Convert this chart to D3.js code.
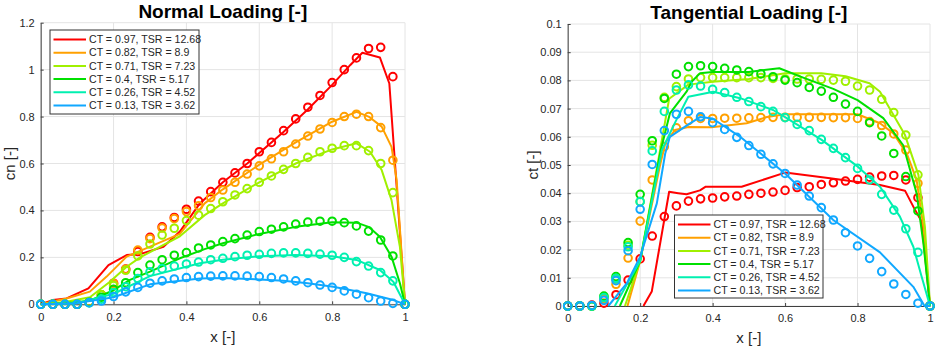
<!DOCTYPE html>
<html>
<head>
<meta charset="utf-8">
<script src="https://cdn.jsdelivr.net/npm/d3@7"></script>
<style>
  body { margin: 0; background: #fff; }
  svg { display: block; font-family: "Liberation Sans", Arial, sans-serif; }
</style>
</head>
<body>
<svg width="936" height="346"></svg>
<script>
// x stations of the measured points (circles)
const xPts = [0, 0.0333, 0.0667, 0.1, 0.1333, 0.1667, 0.2, 0.2333, 0.2667, 0.3, 0.3333, 0.3667, 0.4, 0.4333, 0.4667, 0.5,
  0.5333, 0.5667, 0.6, 0.6333, 0.6667, 0.7, 0.7333, 0.7667, 0.8, 0.8333, 0.8667, 0.9, 0.9333, 0.9667, 1];

const seriesNames = ["CT = 0.97, TSR = 12.68", "CT = 0.82, TSR = 8.9", "CT = 0.71, TSR = 7.23",
  "CT = 0.4, TSR = 5.17", "CT = 0.26, TSR = 4.52", "CT = 0.13, TSR = 3.62"];

const xTicks = [0, 0.2, 0.4, 0.6, 0.8, 1];
const cnTicks = [0, 0.2, 0.4, 0.6, 0.8, 1, 1.2];
const ctTicks = [0, 0.01, 0.02, 0.03, 0.04, 0.05, 0.06, 0.07, 0.08, 0.09, 0.1];

// normal loading, circles
const cnRed    = [0, 0, 0, 0, 0.01, 0.04, 0.09, 0.15, 0.225, 0.285, 0.33, 0.37, 0.405, 0.44, 0.48, 0.52, 0.56, 0.6, 0.65, 0.69, 0.74, 0.79, 0.84, 0.89, 0.945, 1.0, 1.05, 1.09, 1.095, 0.97, 0];
const cnOrange = [0, 0, 0, 0, 0.01, 0.04, 0.088, 0.149, 0.231, 0.28, 0.325, 0.365, 0.395, 0.42, 0.455, 0.487, 0.52, 0.555, 0.59, 0.62, 0.65, 0.683, 0.717, 0.747, 0.775, 0.8, 0.81, 0.8, 0.753, 0.614, 0];
const cnYellow = [0, 0, 0, 0, 0.01, 0.04, 0.08, 0.145, 0.206, 0.257, 0.295, 0.324, 0.357, 0.38, 0.408, 0.437, 0.466, 0.493, 0.52, 0.547, 0.575, 0.6, 0.626, 0.65, 0.665, 0.676, 0.676, 0.655, 0.6, 0.476, 0];
const cnGreen  = [0, 0, 0, 0, 0.008, 0.03, 0.064, 0.092, 0.135, 0.167, 0.19, 0.209, 0.22, 0.24, 0.253, 0.267, 0.28, 0.295, 0.31, 0.32, 0.33, 0.342, 0.35, 0.354, 0.354, 0.348, 0.334, 0.312, 0.274, 0.206, 0];
const cnCyan   = [0, 0, 0, 0, 0.006, 0.022, 0.05, 0.075, 0.11, 0.138, 0.152, 0.163, 0.172, 0.18, 0.19, 0.196, 0.203, 0.209, 0.213, 0.217, 0.219, 0.219, 0.217, 0.214, 0.209, 0.2, 0.182, 0.163, 0.135, 0.1, 0];
const cnBlue   = [0, 0, 0, 0, 0.007, 0.014, 0.033, 0.053, 0.072, 0.09, 0.1, 0.108, 0.114, 0.118, 0.12, 0.121, 0.121, 0.12, 0.118, 0.114, 0.108, 0.1, 0.092, 0.082, 0.072, 0.057, 0.043, 0.028, 0.014, 0.004, 0];

// normal loading, model lines [x, cn]
const cnLineRed    = [[0,0],[0.033,0.018],[0.071,0.025],[0.131,0.068],[0.186,0.167],[0.236,0.21],[0.273,0.214],[0.337,0.245],[0.382,0.31],[0.437,0.43],[0.5,0.52],[0.567,0.6],[0.667,0.735],[0.733,0.83],[0.8,0.935],[0.85,1.02],[0.883,1.072],[0.931,1.052],[0.957,0.941],[1,0]];
const cnLineOrange = [[0,0],[0.071,0.025],[0.135,0.054],[0.181,0.118],[0.236,0.203],[0.273,0.228],[0.382,0.3],[0.45,0.43],[0.5,0.49],[0.6,0.595],[0.7,0.69],[0.8,0.778],[0.867,0.82],[0.9,0.8],[0.936,0.757],[0.963,0.671],[0.977,0.53],[1,0]];
const cnLineYellow = [[0,0],[0.067,0.01],[0.135,0.03],[0.19,0.096],[0.236,0.16],[0.273,0.2],[0.382,0.29],[0.45,0.38],[0.5,0.43],[0.6,0.52],[0.7,0.6],[0.8,0.66],[0.867,0.686],[0.904,0.65],[0.936,0.572],[0.963,0.444],[0.986,0.245],[1,0]];
const cnLineGreen  = [[0,0],[0.067,0.005],[0.135,0.015],[0.2,0.06],[0.245,0.104],[0.3,0.139],[0.382,0.196],[0.45,0.235],[0.5,0.26],[0.6,0.3],[0.7,0.33],[0.8,0.35],[0.867,0.348],[0.9,0.33],[0.931,0.288],[0.963,0.203],[0.986,0.09],[1,0]];
const cnLineCyan   = [[0,0],[0.1,0.005],[0.2,0.045],[0.3,0.12],[0.437,0.175],[0.5,0.19],[0.6,0.205],[0.7,0.21],[0.8,0.205],[0.867,0.189],[0.931,0.146],[0.968,0.096],[0.99,0.03],[1,0]];
const cnLineBlue   = [[0,0],[0.1,0.005],[0.2,0.03],[0.3,0.085],[0.437,0.11],[0.5,0.112],[0.6,0.106],[0.666,0.1],[0.733,0.09],[0.803,0.075],[0.895,0.047],[0.968,0.018],[1,0]];

// tangential loading, circles
const ctRed    = [0, 0, 0.0003, 0.001, 0.004, 0.0092, 0.0167, 0.0248, 0.0317, 0.0355, 0.0372, 0.038, 0.0383, 0.0387, 0.039, 0.0396, 0.04, 0.0404, 0.041, 0.042, 0.0423, 0.0431, 0.0437, 0.0443, 0.0449, 0.0457, 0.0461, 0.0463, 0.0447, 0.0384, 0];
const ctOrange = [0, 0, 0, 0.0025, 0.0077, 0.017, 0.0301, 0.0447, 0.0565, 0.0632, 0.0657, 0.0665, 0.0665, 0.0666, 0.0666, 0.0667, 0.0668, 0.0669, 0.0669, 0.0669, 0.0669, 0.0669, 0.0668, 0.0668, 0.0665, 0.0654, 0.064, 0.061, 0.0553, 0.0435, 0];
const ctYellow = [0, 0, 0, 0.003, 0.0095, 0.0215, 0.037, 0.057, 0.074, 0.0778, 0.0805, 0.081, 0.081, 0.081, 0.081, 0.081, 0.081, 0.0807, 0.0805, 0.0805, 0.0805, 0.0804, 0.0801, 0.0797, 0.078, 0.0766, 0.0733, 0.0686, 0.0606, 0.0465, 0];
const ctGreen  = [0, 0, 0, 0.0035, 0.0104, 0.0225, 0.0396, 0.0586, 0.0736, 0.0822, 0.0849, 0.0852, 0.0849, 0.0843, 0.0837, 0.0831, 0.0823, 0.0813, 0.0801, 0.0792, 0.0775, 0.0762, 0.074, 0.0716, 0.069, 0.065, 0.0603, 0.0541, 0.0459, 0.0337, 0];
const ctCyan   = [0, 0, 0, 0.003, 0.0098, 0.021, 0.037, 0.055, 0.069, 0.0766, 0.0784, 0.078, 0.0768, 0.0757, 0.074, 0.0725, 0.0707, 0.069, 0.0668, 0.0644, 0.0622, 0.0591, 0.0559, 0.0526, 0.0488, 0.0447, 0.0396, 0.034, 0.0274, 0.019, 0];
const ctBlue   = [0, 0, 0.0002, 0.002, 0.009, 0.0196, 0.0343, 0.0502, 0.0622, 0.068, 0.069, 0.0671, 0.065, 0.0626, 0.0598, 0.0569, 0.0538, 0.0504, 0.047, 0.0429, 0.039, 0.0349, 0.0305, 0.026, 0.0213, 0.0169, 0.0122, 0.0078, 0.0041, 0.001, 0];

// tangential loading, model lines [x, ct]
const ctLineRed    = [[0.209,0],[0.232,0.0051],[0.28,0.0405],[0.305,0.04],[0.328,0.0396],[0.365,0.041],[0.381,0.0423],[0.48,0.0423],[0.6,0.0473],[0.724,0.0453],[0.862,0.0429],[0.931,0.0409],[0.959,0.034],[0.977,0.03],[1,0]];
const ctLineOrange = [[0.165,0],[0.2,0.016],[0.255,0.05],[0.27,0.058],[0.296,0.0624],[0.333,0.0635],[0.397,0.0634],[0.494,0.0648],[0.55,0.067],[0.6,0.068],[0.7,0.068],[0.8,0.068],[0.862,0.0648],[0.899,0.0612],[0.936,0.054],[0.963,0.0447],[0.982,0.028],[1,0]];
const ctLineYellow = [[0.158,0],[0.2,0.016],[0.255,0.0553],[0.28,0.0735],[0.333,0.0785],[0.4,0.0795],[0.5,0.0805],[0.6,0.0825],[0.7,0.0825],[0.767,0.0815],[0.833,0.079],[0.862,0.076],[0.931,0.0606],[0.968,0.0465],[0.986,0.028],[1,0]];
const ctLineGreen  = [[0.144,0],[0.2,0.016],[0.257,0.0553],[0.282,0.0683],[0.328,0.076],[0.342,0.0795],[0.365,0.0825],[0.4,0.083],[0.5,0.083],[0.584,0.0843],[0.65,0.081],[0.733,0.077],[0.8,0.073],[0.871,0.0666],[0.926,0.057],[0.963,0.04],[0.982,0.022],[1,0]];
const ctLineCyan   = [[0.13,0],[0.2,0.016],[0.26,0.0553],[0.3,0.066],[0.333,0.0742],[0.402,0.076],[0.476,0.0737],[0.567,0.0695],[0.6,0.067],[0.7,0.059],[0.8,0.0495],[0.862,0.0423],[0.917,0.0317],[0.954,0.021],[0.977,0.0104],[1,0]];
const ctLineBlue   = [[0.112,0],[0.163,0.008],[0.2,0.0175],[0.246,0.0364],[0.269,0.054],[0.282,0.06],[0.324,0.0636],[0.365,0.067],[0.4,0.0665],[0.476,0.06],[0.6,0.047],[0.733,0.0305],[0.862,0.019],[0.954,0.0068],[0.985,0],[1,0]];

const colors = ["#ff0000", "#ffa000", "#a0f000", "#00e000", "#00f0b0", "#10a8ff"];

const holder = {
	"svg": null,
	"textColor": "#262626",
	"gridColor": "#e4e4e4"
};

function start() {
	holder.svg = d3.select("svg");
	drawPanel({
		left: 40.7, right: 405, top: 22.7, bottom: 304.3,
		yMax: 1.2, yTicks: cnTicks, title: "Normal Loading [-]", titleY: 17.5,
		yLabel: "cn [-]", yLabelX: 14.5, xLabelY: 341.5,
		points: [cnRed, cnOrange, cnYellow, cnGreen, cnCyan, cnBlue],
		lines: [cnLineRed, cnLineOrange, cnLineYellow, cnLineGreen, cnLineCyan, cnLineBlue],
		legend: {x: 50, y: 30, w: 149, h: 84}
	});
	drawPanel({
		left: 567.7, right: 930, top: 24, bottom: 306,
		yMax: 0.1, yTicks: ctTicks, title: "Tangential Loading [-]", titleY: 18.5,
		yLabel: "ct [-]", yLabelX: 537.5, xLabelY: 343,
		points: [ctRed, ctOrange, ctYellow, ctGreen, ctCyan, ctBlue],
		lines: [ctLineRed, ctLineOrange, ctLineYellow, ctLineGreen, ctLineCyan, ctLineBlue],
		legend: {x: 674.5, y: 215, w: 148.5, h: 83}
	});
}

function drawPanel(p) {
	const svg = holder.svg;
	const g = svg.append("g");
	const x = d3.scaleLinear().domain([0, 1]).range([p.left, p.right]);
	const y = d3.scaleLinear().domain([0, p.yMax]).range([p.bottom, p.top]);

	// grid
	g.append("g").selectAll("line").data(xTicks).enter().append("line")
		.attr("x1", d => x(d)).attr("x2", d => x(d))
		.attr("y1", p.top).attr("y2", p.bottom)
		.attr("stroke", holder.gridColor).attr("stroke-width", 1);
	g.append("g").selectAll("line").data(p.yTicks).enter().append("line")
		.attr("x1", p.left).attr("x2", p.right)
		.attr("y1", d => y(d)).attr("y2", d => y(d))
		.attr("stroke", holder.gridColor).attr("stroke-width", 1);

	// axes, ticks pointing inward like matlab
	const fmt = d3.format("~g");
	const xAxis = g.append("g").attr("transform", "translate(0," + p.bottom + ")")
		.call(d3.axisBottom(x).tickValues(xTicks).tickFormat(fmt).tickSizeInner(-3).tickSizeOuter(0).tickPadding(8.5));
	const yAxis = g.append("g").attr("transform", "translate(" + p.left + ",0)")
		.call(d3.axisLeft(y).tickValues(p.yTicks).tickFormat(fmt).tickSizeInner(-3).tickSizeOuter(0).tickPadding(6));
	[xAxis, yAxis].forEach(a => {
		a.select(".domain").attr("stroke", "#404040");
		a.selectAll(".tick line").attr("stroke", "#404040");
		a.selectAll("text").attr("fill", holder.textColor).attr("font-size", 11)
			.attr("font-family", "Liberation Sans, Arial, sans-serif");
	});

	// titles and labels
	g.append("text").attr("x", (p.left + p.right) / 2).attr("y", p.titleY)
		.attr("text-anchor", "middle").attr("font-weight", "bold").attr("font-size", 19)
		.attr("fill", "#000").text(p.title);
	g.append("text").attr("x", (p.left + p.right) / 2).attr("y", p.xLabelY)
		.attr("text-anchor", "middle").attr("font-size", 15)
		.attr("fill", holder.textColor).text("x [-]");
	g.append("text").attr("transform", "translate(" + p.yLabelX + "," + ((p.top + p.bottom) / 2) + ") rotate(-90)")
		.attr("text-anchor", "middle").attr("font-size", 15)
		.attr("fill", holder.textColor).text(p.yLabel);

	// data: line then circles for each case
	const line = d3.line().x(d => x(d[0])).y(d => y(d[1]));
	p.points.forEach((vals, i) => {
		g.append("path").datum(p.lines[i]).attr("d", line)
			.attr("fill", "none").attr("stroke", colors[i]).attr("stroke-width", 2)
			.attr("stroke-linejoin", "round");
		g.append("g").selectAll("circle").data(vals).enter().append("circle")
			.attr("cx", (d, j) => x(xPts[j])).attr("cy", d => y(d))
			.attr("r", 3.8).attr("fill", "none")
			.attr("stroke", colors[i]).attr("stroke-width", 2);
	});

	drawLegend(g, p.legend);
}

function drawLegend(g, L) {
	const lg = g.append("g");
	lg.append("rect").attr("x", L.x).attr("y", L.y).attr("width", L.w).attr("height", L.h)
		.attr("fill", "#fff").attr("stroke", "#333").attr("stroke-width", 1);
	seriesNames.forEach((name, i) => {
		const ry = L.y + 9.5 + i * 13.2;
		lg.append("line").attr("x1", L.x + 3.5).attr("x2", L.x + 36)
			.attr("y1", ry).attr("y2", ry)
			.attr("stroke", colors[i]).attr("stroke-width", 2);
		lg.append("text").attr("x", L.x + 39).attr("y", ry + 3.7)
			.attr("font-size", 10.6).attr("fill", holder.textColor).text(name);
	});
}

start();
</script>
</body>
</html>
